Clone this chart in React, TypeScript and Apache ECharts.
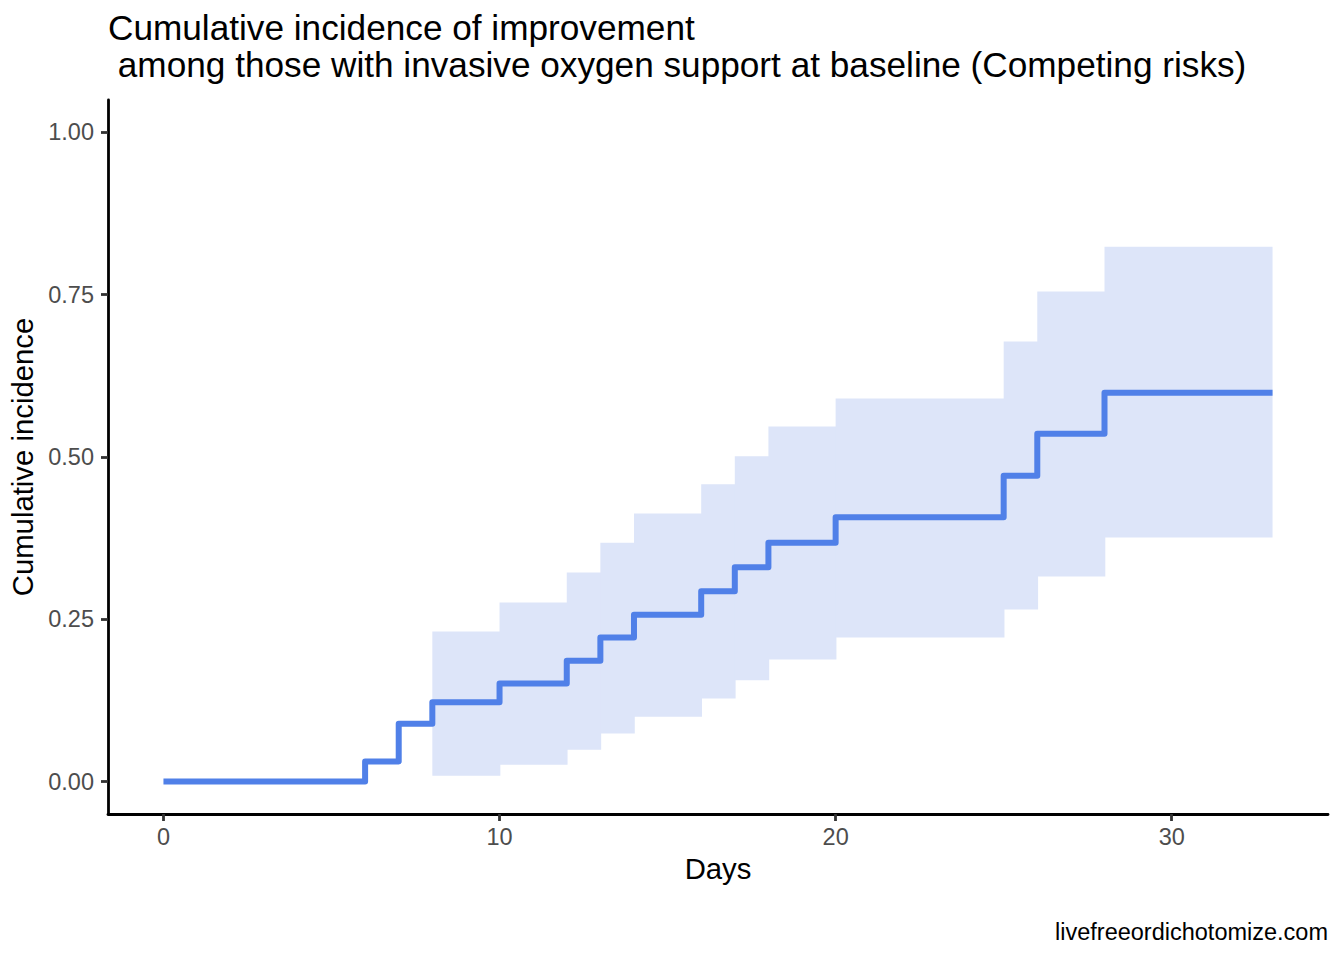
import React, { useEffect, useRef } from "react";
import * as echarts from "echarts";

// Cumulative incidence step function (day, value)
const days = [0, 6, 7, 8, 10, 12, 13, 14, 16, 17, 18, 20, 25, 26, 28, 33];
const incidence = [0, 0.031, 0.089, 0.122, 0.151, 0.186, 0.222, 0.257, 0.293, 0.33, 0.368, 0.407, 0.471, 0.536, 0.599, 0.599];

// Confidence band (starts at day 8, ends at day 33)
const ciDays = [8, 10, 12, 13, 14, 16, 17, 18, 20, 25, 26, 28, 33];
const ciLower = [0.009, 0.026, 0.049, 0.074, 0.1, 0.128, 0.156, 0.188, 0.222, 0.265, 0.316, 0.376];
const ciUpper = [0.231, 0.276, 0.322, 0.368, 0.413, 0.458, 0.501, 0.547, 0.59, 0.678, 0.755, 0.824];

const xTicks = [0, 10, 20, 30];
const yTicks = [0, 0.25, 0.5, 0.75, 1];

const FONT = "Liberation Sans, Arial, Helvetica, sans-serif";

export default function App() {
  const ref = useRef<HTMLDivElement>(null);
  useEffect(() => {
    if (!ref.current) return;
    const chart = echarts.init(ref.current, undefined, { renderer: "svg" });
    const lineData = days.map((d, i) => [d, incidence[i]]);
    const ribbonData = ciLower.map((lo, i) => [ciDays[i], ciDays[i + 1], lo, ciUpper[i]]);
    const nRib = ribbonData.length;
    chart.setOption({
      animation: false,
      backgroundColor: "#ffffff",
      textStyle: { fontFamily: FONT },
      title: {
        text: "Cumulative incidence of improvement\n among those with invasive oxygen support at baseline (Competing risks)",
        left: 108,
        top: 9,
        padding: 0,
        textStyle: { fontFamily: FONT, fontSize: 35.2, fontWeight: "normal", color: "#000000", lineHeight: 37 },
      },
      grid: { left: 108, right: 16, top: 100, bottom: 146, containLabel: false },
      xAxis: {
        type: "value",
        min: -1.65,
        max: 34.65,
        name: "Days",
        nameLocation: "middle",
        nameGap: 39,
        nameTextStyle: { fontFamily: FONT, fontSize: 29.3, color: "#000000" },
        axisLine: { show: true, onZero: false, lineStyle: { color: "#000000", width: 2.8 } },
        axisTick: { show: true, length: 7, customValues: xTicks, lineStyle: { color: "#333333", width: 2.8 } },
        axisLabel: { customValues: xTicks, margin: 11, fontSize: 23.5, color: "#4d4d4d", fontFamily: FONT },
        splitLine: { show: false },
      },
      yAxis: {
        type: "value",
        min: -0.05,
        max: 1.05,
        name: "Cumulative incidence",
        nameLocation: "middle",
        nameGap: 63,
        nameTextStyle: { fontFamily: FONT, fontSize: 29.3, color: "#000000" },
        axisLine: { show: true, onZero: false, lineStyle: { color: "#000000", width: 2.8 } },
        axisTick: { show: true, length: 7, customValues: yTicks, lineStyle: { color: "#333333", width: 2.8 } },
        axisLabel: {
          customValues: yTicks,
          margin: 14,
          fontSize: 23.5,
          color: "#4d4d4d",
          fontFamily: FONT,
          formatter: (v: number) => v.toFixed(2),
        },
        splitLine: { show: false },
      },
      series: [
        {
          type: "custom",
          data: ribbonData,
          encode: { x: [0, 1], y: [2, 3] },
          silent: true,
          z: 1,
          renderItem: (params: any, api: any) => {
            const p0 = api.coord([api.value(0), api.value(3)]);
            const p1 = api.coord([api.value(1), api.value(2)]);
            const extra = params.dataIndex < nRib - 1 ? 0.8 : 0;
            return {
              type: "rect",
              shape: { x: p0[0], y: p0[1], width: p1[0] - p0[0] + extra, height: p1[1] - p0[1] },
              style: { fill: "#dde5f9" },
            };
          },
        },
        {
          type: "line",
          data: lineData,
          step: "end",
          symbol: "none",
          z: 3,
          lineStyle: { color: "#5080e8", width: 6, join: "round", cap: "butt" },
          silent: true,
        },
      ],
      graphic: [
        {
          type: "text",
          right: 16,
          top: 920,
          style: { text: "livefreeordichotomize.com", fontFamily: FONT, fontSize: 23.5, fill: "#000000" },
        },
      ],
    });
    return () => chart.dispose();
  }, []);
  return <div ref={ref} style={{ width: 1344, height: 960, margin: -8 }} />;
}
